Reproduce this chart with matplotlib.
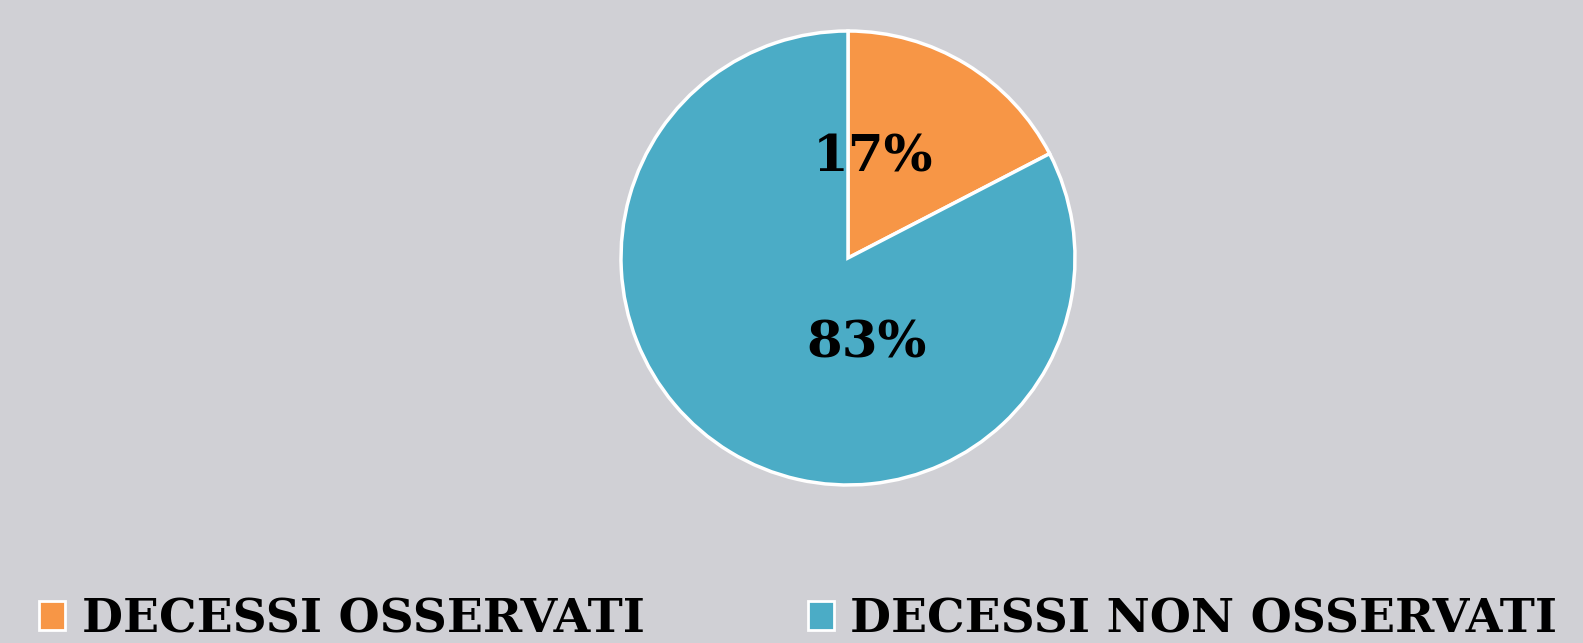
import matplotlib
matplotlib.use("Agg")
import matplotlib.pyplot as plt

# data
categories = ["DECESSI OSSERVATI", "DECESSI NON OSSERVATI"]
shares = [17.4, 82.6]
colors = ["#F79646", "#4BACC6"]

fig = plt.figure(figsize=(15.83, 6.43), dpi=100)
fig.patch.set_facecolor("#d0d0d5")

# pie axes: centre ~ (848, 258) px, radius ~ 227 px
ax = fig.add_axes([(848 - 227) / 1583, 1 - (258 + 227) / 643, 454 / 1583, 454 / 643])
ax.set_facecolor("none")

wedges, texts, autotexts = ax.pie(
    shares, colors=colors, startangle=90, counterclock=False,
    autopct=lambda p: f"{p:.0f}%",
    wedgeprops=dict(edgecolor="white", linewidth=2.5),
    textprops=dict(family="DejaVu Serif", weight="heavy", fontsize=37, color="black"),
)
ax.set_xlim(-1, 1)
ax.set_ylim(-1, 1)
ax.set_aspect("equal")

# excel-style label spots
autotexts[0].set_position((0.11, 0.44))
autotexts[1].set_position((0.08, -0.38))

leg = fig.legend(
    wedges, categories, loc="lower left", bbox_to_anchor=(-0.002, -0.065),
    ncol=2, frameon=False, columnspacing=3.45, handlelength=0.55, handleheight=0.55,
    handletextpad=0.35,
    prop=dict(family="DejaVu Serif", weight="heavy", size=34),
)
for h in leg.legend_handles:
    h.set_edgecolor("white")
    h.set_linewidth(2)

fig.savefig("out.png", dpi=100, facecolor=fig.get_facecolor())
